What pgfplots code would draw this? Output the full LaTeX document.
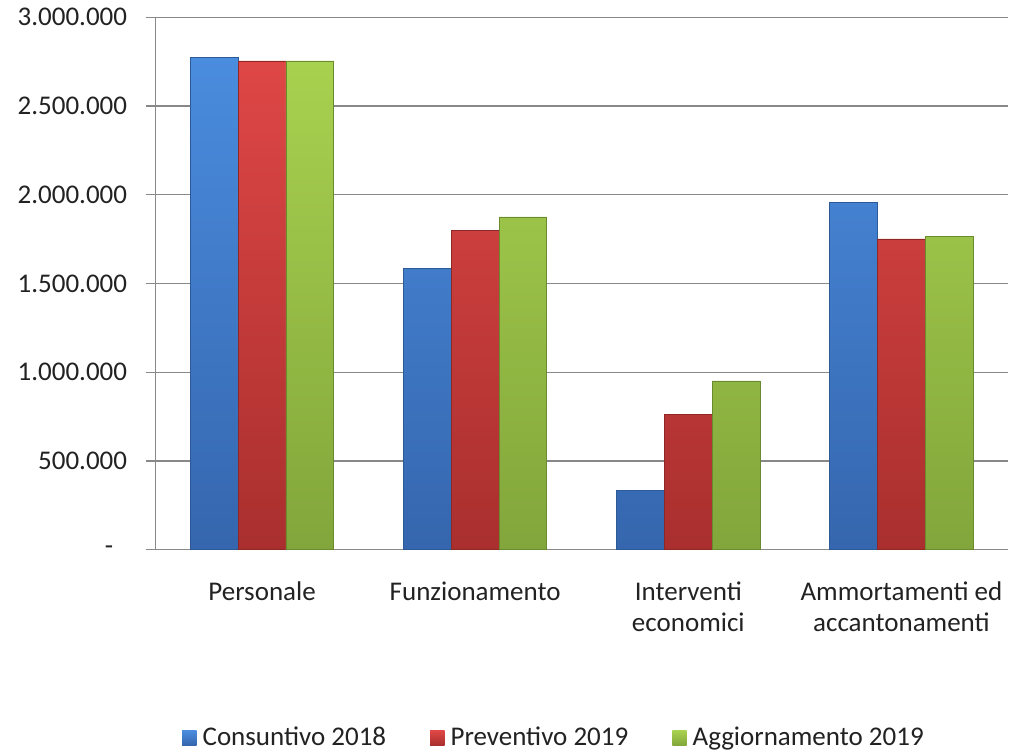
\documentclass[border=0pt]{standalone}
\usepackage{pgfplots}
\pgfplotsset{compat=1.18}
\usepackage{fontspec}
\setmainfont{Carlito}
\definecolor{bluetop}{HTML}{4A8CDE}
\definecolor{bluebot}{HTML}{3566AE}
\definecolor{blueedge}{HTML}{2C5A96}
\definecolor{redtop}{HTML}{DE4746}
\definecolor{redbot}{HTML}{A92F2E}
\definecolor{rededge}{HTML}{8E2826}
\definecolor{greentop}{HTML}{A8D14F}
\definecolor{greenbot}{HTML}{82A63B}
\definecolor{greenedge}{HTML}{6A8A2E}
\definecolor{gridgray}{HTML}{888888}
\definecolor{textcol}{HTML}{222222}
\begin{document}
\fontsize{13.5}{16}\selectfont
\begin{tikzpicture}
\useasboundingbox (-77.75pt,-101.65pt) rectangle (427.75pt,274.85pt);
\begin{axis}[
  at={(0pt,0pt)}, anchor=south west,
  scale only axis, width=426.25pt, height=266.2pt,
  xmin=-0.5, xmax=3.5, ymin=0, ymax=3000000,
  axis lines*=left,
  axis line style={gridgray, line width=0.6pt},
  ymajorgrids, grid style={gridgray, line width=0.6pt},
  ytick={0,500000,1000000,1500000,2000000,2500000,3000000},
  yticklabels={{-\rule{7pt}{0pt}},500.000,1.000.000,1.500.000,2.000.000,2.500.000,3.000.000},
  scaled y ticks=false,
  xtick={0,1,2,3},
  xticklabels={Personale,Funzionamento,{Interventi\\economici},{Ammortamenti ed\\accantonamenti}},
  xtick style={draw=none},
  ytick style={gridgray, line width=0.6pt},
  tick align=outside, major tick length=4.5pt,
  yticklabel style={font=\fontsize{13.5}{16}\selectfont, text=textcol, anchor=east, xshift=-5pt},
  xticklabel style={font=\fontsize{13.5}{15.5}\selectfont, text=textcol, align=center, anchor=north, yshift=-7pt},
  ybar=0pt, bar width=23.9pt,
  legend columns=3,
  legend style={draw=none, at={(0.4686,-0.3537)}, anchor=center,
    font=\fontsize{13.5}{16}\selectfont, text=textcol,
    /tikz/every even column/.append style={column sep=20pt}},
  legend image code/.code={\draw[#1, draw=none] (0pt,-3.6pt) rectangle (7.2pt,3.6pt); \path (8pt,0pt);},
]
\addplot[draw=blueedge, line width=0.4pt, top color=bluetop, bottom color=bluebot]
  coordinates {(0,2776000) (1,1586000) (2,336000) (3,1959000)};
\addplot[draw=rededge, line width=0.4pt, top color=redtop, bottom color=redbot]
  coordinates {(0,2754000) (1,1801000) (2,763000) (3,1751000)};
\addplot[draw=greenedge, line width=0.4pt, top color=greentop, bottom color=greenbot]
  coordinates {(0,2754000) (1,1875000) (2,951000) (3,1764000)};
\legend{Consuntivo 2018, Preventivo 2019, Aggiornamento 2019}
\end{axis}
\end{tikzpicture}
\end{document}
